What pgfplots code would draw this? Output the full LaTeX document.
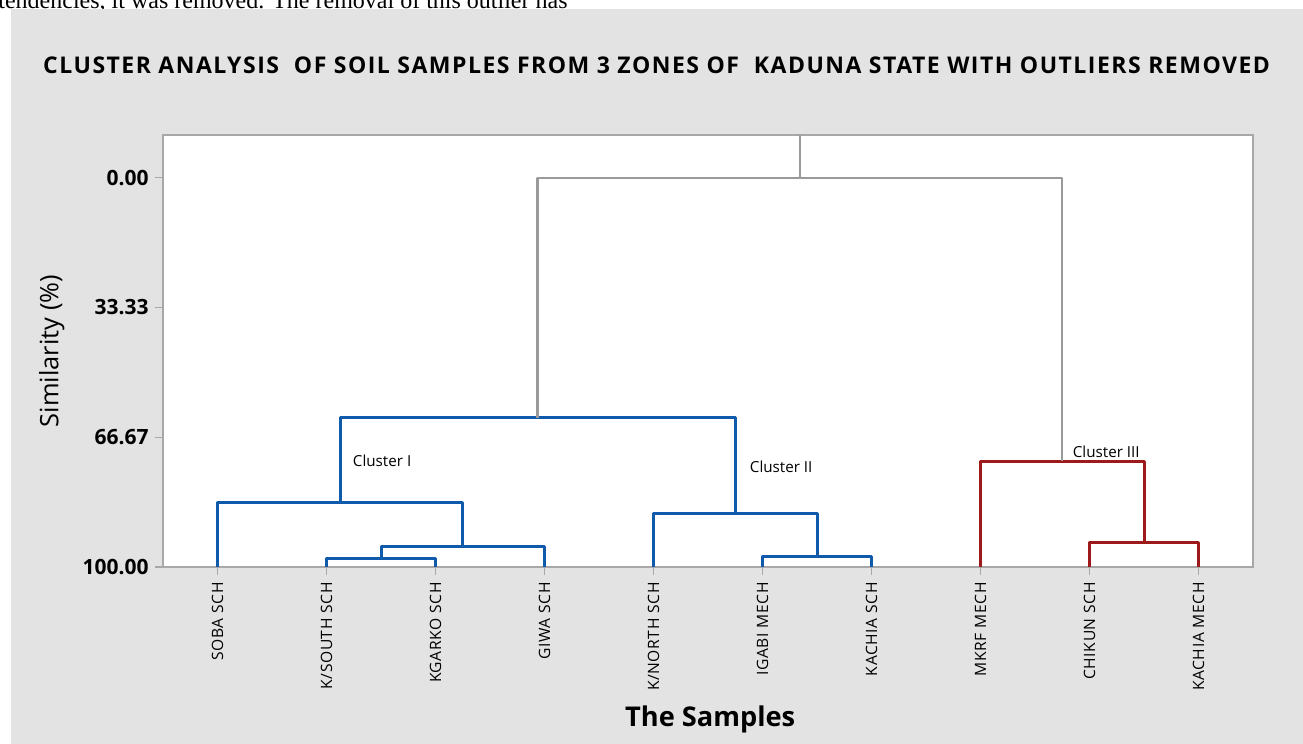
\documentclass[border=0pt]{standalone}
\usepackage{fontspec}
\setmainfont{Open Sans}
\newfontfamily\cutserif{Liberation Serif}
\usepackage{pgfplots}
\pgfplotsset{compat=1.18}
\definecolor{bg}{HTML}{E3E3E3}
\definecolor{dblue}{HTML}{0F5AAA}
\definecolor{dred}{HTML}{9E1A1A}
\definecolor{lgrey}{HTML}{9A9A9A}
\definecolor{frame}{HTML}{A8A8A8}
\begin{document}
\begin{tikzpicture}
\useasboundingbox (0,0) rectangle (651.5pt,372pt);
\fill[white] (0,0) rectangle (651.5pt,372pt);
\fill[bg] (5.5pt,0) rectangle (651.5pt,367.5pt);
\begin{scope}
\clip (0,367.5pt) rectangle (651.5pt,372pt);
\node[anchor=base west, inner sep=0, font=\cutserif\fontsize{12}{14}\selectfont] at (-1pt,367.8pt) {tendencies, it was removed. The removal of this outlier has};
\end{scope}
\begin{axis}[
  at={(81.5pt,88.5pt)}, anchor=south west,
  scale only axis, width=545pt, height=216pt,
  xmin=0.5, xmax=10.5, ymin=-11, ymax=100,
  y dir=reverse,
  axis background/.style={fill=white},
  axis line style={frame, line width=0.9pt},
  tick align=outside, major tick length=4pt,
  xtick pos=left, ytick pos=left,
  every tick/.style={frame, line width=0.6pt},
  xtick={1,2,3,4,5,6,7,8,9,10},
  xticklabels={SOBA SCH, K/SOUTH SCH, KGARKO SCH, GIWA SCH, K/NORTH SCH, IGABI MECH, KACHIA SCH, MKRF MECH, CHIKUN SCH, KACHIA MECH},
  xticklabel style={rotate=90, anchor=east, font=\fontsize{7.8}{9}\selectfont\addfontfeature{LetterSpace=4}, inner sep=0pt},
  xticklabel shift=3.5pt,
  ytick={0,33.33,66.67,100},
  yticklabels={0.00,33.33,66.67,100.00},
  yticklabel style={font=\bfseries\fontsize{10.5}{12}\selectfont, inner sep=0pt},
  yticklabel shift=3pt,
  /pgf/number format/assume math mode=true,
  every axis title shift=0pt,
  title={CLUSTER ANALYSIS\ \ OF SOIL SAMPLES FROM 3 ZONES OF\ \ KADUNA STATE WITH OUTLIERS REMOVED},
  title style={at={(axis description cs:0.4528,1.1435)}, anchor=base, inner sep=0pt, font=\bfseries\fontsize{11.5}{13}\selectfont\addfontfeature{LetterSpace=6.5}},
  xlabel={The Samples},
  xlabel style={at={(axis description cs:0.502,-0.370)}, anchor=base, inner sep=0pt, font=\bfseries\fontsize{13.6}{15}\selectfont},
  ylabel={Similarity (\%)},
  ylabel style={at={(axis description cs:-0.0960,0.5)}, anchor=base, inner sep=0pt, font=\fontsize{12.7}{15}\selectfont},
  clip=false,
]
% Cluster I
\addplot[dblue, line width=1.5pt, line join=round] coordinates {(2,100) (2,97.8) (3,97.8) (3,100)};
\addplot[dblue, line width=1.5pt, line join=round] coordinates {(2.5,97.8) (2.5,94.8) (4,94.8) (4,100)};
\addplot[dblue, line width=1.5pt, line join=round] coordinates {(1,100) (1,83.5) (3.25,83.5) (3.25,94.8)};
% Cluster II
\addplot[dblue, line width=1.5pt, line join=round] coordinates {(6,100) (6,97.3) (7,97.3) (7,100)};
\addplot[dblue, line width=1.5pt, line join=round] coordinates {(5,100) (5,86.3) (6.5,86.3) (6.5,97.3)};
% I + II
\addplot[dblue, line width=1.5pt, line join=round] coordinates {(2.125,83.5) (2.125,61.7) (5.75,61.7) (5.75,86.3)};
% Cluster III
\addplot[dred, line width=1.5pt, line join=round] coordinates {(9,100) (9,93.6) (10,93.6) (10,100)};
\addplot[dred, line width=1.5pt, line join=round] coordinates {(8,100) (8,72.8) (9.5,72.8) (9.5,93.6)};
% root
\addplot[lgrey, line width=1.2pt, line join=round] coordinates {(3.9375,61.7) (3.9375,0) (8.75,0) (8.75,72.8)};
\addplot[lgrey, line width=1.2pt] coordinates {(6.34375,0) (6.34375,-11)};
\node[anchor=west, inner sep=0pt, font=\fontsize{7.6}{9}\selectfont] at (axis cs:2.239,72.6) {Cluster I};
\node[anchor=west, inner sep=0pt, font=\fontsize{7.6}{9}\selectfont] at (axis cs:5.881,74.2) {Cluster II};
\node[anchor=west, inner sep=0pt, font=\fontsize{7.6}{9}\selectfont] at (axis cs:8.844,70.3) {Cluster III};
\end{axis}
\end{tikzpicture}
\end{document}
